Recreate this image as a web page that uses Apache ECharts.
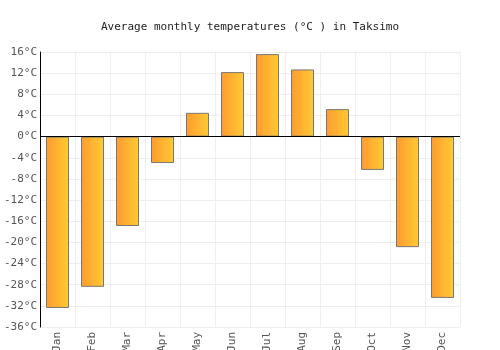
<!DOCTYPE html>
<html><head><meta charset="utf-8">
<script src="https://cdn.jsdelivr.net/npm/echarts@6/dist/echarts.min.js"></script>
<style>html,body{margin:0;padding:0;background:#fff}#c{width:500px;height:350px}</style>
</head><body><div id="c"></div>
<script>
var months = ['Jan','Feb','Mar','Apr','May','Jun','Jul','Aug','Sep','Oct','Nov','Dec'];
var temps = [-32.4, -28.4, -16.9, -5.0, 4.5, 12.2, 15.6, 12.7, 5.2, -6.3, -20.9, -30.5];
var titleText = 'Average monthly temperatures (°C ) in Taksimo';
var font = '"DejaVu Sans Mono", monospace';
var chart = echarts.init(document.getElementById('c'));
chart.setOption({
  animation: false,
  title: {text: titleText, left: 'center', top: 17, textStyle: {fontFamily: font, fontSize: 11, fontWeight: 'normal', color: '#222'}},
  grid: {left: 40, right: 40, top: 52, bottom: 23, containLabel: false, outerBoundsMode: 'none'},
  xAxis: {
    type: 'category', data: months,
    axisLine: {show: false}, axisTick: {show: false},
    splitLine: {show: true, lineStyle: {color: '#eee'}},
    axisLabel: {rotate: 90, fontFamily: font, fontSize: 11, color: '#555', margin: 5, interval: 0}
  },
  yAxis: {
    type: 'value', min: -36, max: 16, interval: 4,
    axisLine: {show: true, lineStyle: {color: '#000'}}, axisTick: {show: false},
    splitLine: {lineStyle: {color: '#eee'}},
    axisLabel: {formatter: '{value}°C', fontFamily: font, fontSize: 11, color: '#555', margin: 3}
  },
  series: [{
    type: 'bar', data: temps, barWidth: 23,
    itemStyle: {
      borderColor: '#777', borderWidth: 1,
      color: new echarts.graphic.LinearGradient(0, 0, 1, 0, [{offset: 0, color: '#ff9a30'}, {offset: 1, color: '#ffcb33'}])
    },
    markLine: {silent: true, symbol: 'none', label: {show: false}, lineStyle: {color: '#000', type: 'solid', width: 1}, data: [{yAxis: 0}]}
  }]
});
</script></body></html>
